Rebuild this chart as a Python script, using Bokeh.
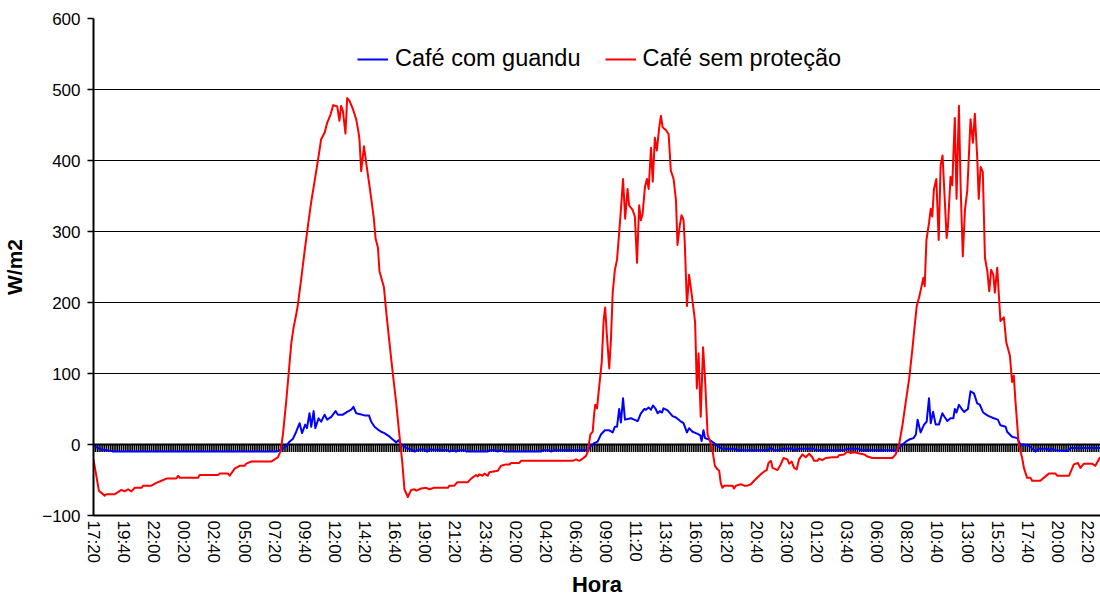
from bokeh.plotting import figure
from bokeh.models import Range1d, FixedTicker, Span, Legend, LegendItem
from bokeh.embed import file_html
from bokeh.resources import INLINE

# 10-minute readings, step 0 = 17:20; labels every 14 steps
tick_labels = ["17:20", "19:40", "22:00", "00:20", "02:40", "05:00", "07:20", "09:40",
               "12:00", "14:20", "16:40", "19:00", "21:20", "23:40", "02:00", "04:20",
               "06:40", "09:00", "11:20", "13:40", "16:00", "18:20", "20:40", "23:00",
               "01:20", "03:40", "06:00", "08:20", "10:40", "13:00", "15:20", "17:40",
               "20:00", "22:20"]
steps_per_label = 14
n_steps = 469
y_ticks = [-100, 0, 100, 200, 300, 400, 500, 600]

# (step, W/m2) – Café sem proteção
red_pts = [
    (0, -21), (2.5, -65), (5.2, -72), (6.0, -70), (9.9, -70), (13.0, -64), (14.5, -66), (16.1, -63),
    (17.6, -66), (19.2, -61), (22.3, -61), (23.1, -58), (26.9, -58), (29.2, -54), (31.6, -51),
    (33.9, -48), (38.5, -48), (39.3, -44), (40.1, -47), (48.6, -47), (49.3, -43), (57.9, -43),
    (58.6, -41), (62.5, -41), (63.3, -44), (65.6, -34), (67.9, -30), (70.2, -30), (71.0, -27),
    (73.4, -24), (82.6, -24), (84.2, -21), (85.7, -18), (87.0, -9), (88.1, 16), (89.6, 62),
    (90.7, 100), (91.9, 142), (93.0, 165), (94.2, 183), (95.0, 197), (96.6, 235), (98.1, 272),
    (99.7, 309), (101.2, 342), (102.7, 370), (104.3, 400), (105.8, 430), (107.4, 439),
    (108.6, 453), (110.2, 465), (111.4, 478), (113.3, 476), (114.3, 456), (115.1, 477),
    (115.9, 470), (117.1, 438), (117.9, 488), (119.0, 484), (120.6, 472), (122.1, 458),
    (123.2, 439), (123.6, 430), (124.4, 385), (125.7, 420), (126.9, 393), (128.0, 370),
    (129.1, 346), (130.3, 318), (131.1, 290), (132.2, 277), (132.9, 244), (135.0, 221),
    (136.0, 188), (137.6, 142), (139.1, 100), (140.7, 58), (141.9, 21), (142.7, -2), (143.5, -25),
    (144.5, -63), (146.1, -74), (147.6, -64), (149.2, -63), (150.0, -65), (152.3, -62),
    (154.6, -61), (156.1, -63), (158.4, -61), (164.7, -61), (165.4, -58), (167.7, -58),
    (168.5, -55), (169.3, -53), (174.0, -53), (175.5, -48), (177.8, -43), (178.6, -45),
    (179.3, -42), (180.9, -44), (181.7, -41), (183.2, -44), (184.0, -39), (187.9, -37),
    (189.4, -30), (191.7, -28), (193.3, -28), (194.1, -26), (197.9, -26), (198.7, -23),
    (222.7, -23), (224.3, -21), (225.8, -23), (227.3, -20), (228.9, -16), (229.7, -10),
    (230.9, 14), (232.0, 18), (232.7, 44), (233.2, 56), (234.0, 51), (235.1, 84), (236.2, 116),
    (237.1, 176), (237.8, 193), (238.5, 158), (239.7, 107), (240.5, 149), (241.3, 214),
    (242.3, 246), (243.3, 260), (244.3, 298), (245.1, 330), (246.1, 374), (247.1, 318),
    (248.2, 360), (248.9, 337), (250.6, 330), (251.6, 321), (252.6, 256), (253.6, 337),
    (254.4, 316), (255.2, 325), (256.3, 363), (257.2, 374), (258.0, 360), (259.1, 418),
    (259.9, 370), (260.9, 432), (261.8, 414), (262.9, 446), (263.7, 463), (264.5, 447),
    (266.0, 443), (267.3, 437), (268.3, 386), (269.6, 374), (270.7, 344), (271.4, 281),
    (272.5, 309), (273.3, 323), (274.2, 316), (274.8, 284), (275.8, 195), (276.8, 239),
    (277.9, 214), (278.9, 190), (279.6, 172), (280.4, 79), (281.2, 128), (282.2, 39),
    (283.3, 137), (284.2, 93), (285.4, 14), (286.6, 4), (287.7, -9), (288.8, -30), (290.0, -35),
    (290.8, -37), (291.5, -54), (292.3, -61), (293.1, -58), (297.0, -58), (297.7, -62),
    (298.5, -58), (300.9, -56), (302.4, -58), (303.9, -58), (305.5, -56), (307.0, -51),
    (310.1, -42), (311.7, -38), (312.9, -36), (313.7, -26), (314.8, -23), (315.6, -33),
    (317.9, -36), (319.4, -28), (320.7, -19), (322.5, -21), (323.3, -27), (324.5, -24),
    (325.6, -33), (326.8, -35), (327.9, -21), (329.5, -14), (331.0, -18), (332.6, -13),
    (334.1, -18), (334.9, -23), (336.4, -23), (337.2, -20), (338.7, -22), (340.3, -19),
    (343.4, -18), (345.7, -18), (346.5, -15), (348.8, -14), (350.4, -10), (351.9, -12),
    (353.5, -11), (356.6, -13), (358.2, -14), (359.7, -17), (362.0, -19), (371.3, -19),
    (372.8, -14), (374.4, 0), (376.0, 28), (377.5, 60), (379.1, 93), (380.6, 135), (381.8, 172),
    (382.6, 195), (383.7, 207), (384.7, 221), (385.7, 235), (386.3, 223), (387.1, 288),
    (388.3, 312), (389.1, 332), (389.8, 321), (390.6, 360), (391.7, 374), (392.8, 288),
    (393.7, 393), (394.6, 407), (396.5, 291), (397.1, 307), (398.3, 377), (399.1, 365),
    (400.3, 460), (401.1, 346), (402.2, 477), (403.0, 363), (404.0, 265), (405.0, 330),
    (406.1, 358), (407.6, 458), (408.7, 425), (409.6, 466), (410.7, 405), (411.4, 346),
    (412.3, 391), (413.3, 384), (414.3, 263), (415.4, 244), (416.3, 216), (417.2, 246),
    (418.2, 239), (418.9, 214), (420.0, 249), (421.5, 174), (423.1, 179), (424.2, 144),
    (425.9, 125), (426.9, 88), (427.7, 97), (428.5, 60), (430.0, 0), (431.6, -19), (432.4, -33),
    (433.9, -47), (435.5, -47), (436.2, -51), (440.1, -51), (441.6, -47), (444.0, -41),
    (447.1, -41), (447.9, -44), (452.6, -44), (453.4, -44), (455.6, -28), (457.5, -26),
    (458.7, -33), (460.3, -27), (464.1, -27), (465.6, -30), (467.6, -19), (468.5, -18),
]

# (step, W/m2) – Café com guandu
blue_pts = [
    (0, -2), (3.7, -7), (8.4, -9), (9.1, -10), (85.0, -10), (87.3, -7), (89.6, -2), (91.1, 4),
    (92.7, 8), (94.2, 18), (95.8, 30), (96.9, 16), (98.4, 28), (99.2, 23), (100.4, 44),
    (101.2, 25), (102.3, 47), (103.1, 23), (104.6, 37), (105.8, 32), (107.4, 42), (108.6, 35),
    (110.5, 39), (112.5, 47), (113.6, 42), (115.9, 42), (117.9, 46), (119.8, 49), (120.8, 53),
    (122.1, 44), (126.0, 41), (128.0, 41), (129.1, 32), (130.6, 25), (132.2, 21), (133.7, 18),
    (135.2, 16), (137.6, 11), (139.1, 7), (140.7, 3), (141.7, 6), (143.0, 0), (145.3, -5),
    (147.6, -7), (149.2, -10), (151.5, -7), (153.5, -7), (155.1, -10), (156.1, -7), (164.7, -8),
    (165.4, -10), (167.1, -8), (168.5, -10), (170.1, -8), (172.4, -8), (173.2, -10),
    (183.2, -10), (184.0, -8), (186.3, -8), (187.9, -10), (189.4, -8), (190.9, -10),
    (208.0, -10), (208.8, -8), (211.8, -8), (212.6, -10), (214.2, -8), (229.7, -8),
    (231.2, -2), (232.7, 2), (234.3, 4), (235.8, 14), (237.7, 20), (239.7, 20), (241.3, 17),
    (242.3, 25), (243.3, 25), (244.3, 50), (245.1, 31), (246.1, 65), (247.0, 35), (248.2, 36),
    (249.8, 37), (251.3, 35), (252.9, 33), (254.4, 44), (256.0, 50), (256.8, 49), (258.0, 52),
    (259.1, 49), (260.0, 55), (261.1, 51), (262.2, 44), (263.2, 47), (264.2, 45), (264.9, 51),
    (266.8, 48), (269.1, 40), (270.7, 38), (272.7, 33), (274.2, 30), (275.8, 17), (276.8, 23),
    (278.4, 18), (280.8, 15), (282.0, 13), (282.6, 5), (283.5, 20), (284.2, 9), (286.1, 7),
    (288.4, 2), (290.0, -2), (292.3, -6), (297.7, -6), (299.3, -8), (313.2, -8), (314.8, -5),
    (316.3, -8), (318.5, -8), (320.2, -6), (323.3, -6), (324.1, -5), (325.6, -8), (327.9, -6),
    (334.9, -6), (335.7, -8), (348.8, -8), (350.4, -6), (355.7, -6), (356.8, -8), (372.8, -8),
    (374.4, -5), (376.0, 0), (377.5, 4), (379.1, 7), (381.1, 9), (382.2, 14), (383.0, 35),
    (384.4, 17), (386.0, 28), (387.2, 32), (388.3, 65), (389.1, 30), (390.2, 46), (391.4, 28),
    (392.9, 28), (394.5, 44), (395.5, 39), (396.8, 33), (398.3, 37), (399.6, 37), (400.3, 50),
    (401.1, 45), (402.2, 56), (403.3, 51), (404.6, 46), (406.4, 50), (407.6, 75), (409.2, 72),
    (410.7, 58), (411.9, 56), (413.5, 45), (415.4, 41), (416.9, 39), (418.4, 37), (420.3, 35),
    (421.5, 27), (423.9, 25), (424.6, 18), (426.9, 11), (429.3, 9), (430.8, 0), (432.4, 0),
    (434.7, -2), (435.5, -4), (437.8, -10), (439.3, -6), (443.2, -6), (444.0, -9), (444.7, -6),
    (447.5, -8), (452.6, -9), (454.1, -5), (468.5, -5),
]

red_x = [s for s, v in red_pts]
red_y = [v for s, v in red_pts]
blue_x = [s for s, v in blue_pts]
blue_y = [v for s, v in blue_pts]

FONT = "Liberation Sans"

p = figure(width=1100, height=600,
           x_range=Range1d(0, 468.0), y_range=Range1d(-100, 600),
           output_backend="svg", toolbar_location=None,
           min_border_left=92, min_border_right=0, min_border_top=18, min_border_bottom=82)
p.outline_line_color = None
p.background_fill_color = "white"
p.border_fill_color = "white"

p.xgrid.visible = False
p.ygrid.grid_line_color = "black"
p.ygrid.grid_line_width = 1.2
p.ygrid.ticker = FixedTicker(ticks=y_ticks)

# y axis
p.yaxis.ticker = FixedTicker(ticks=y_ticks)
p.yaxis.axis_line_color = "black"
p.yaxis.axis_line_width = 2
p.yaxis.major_tick_out = 6
p.yaxis.major_tick_in = 0
p.yaxis.minor_tick_out = 0
p.yaxis.minor_tick_in = 0
p.yaxis.major_tick_line_color = "black"
p.yaxis.major_tick_line_width = 1.5
p.yaxis.major_label_text_font = FONT
p.yaxis.major_label_text_font_size = "17px"
p.yaxis.major_label_text_color = "black"
p.yaxis.major_label_standoff = 7
p.yaxis.axis_label = "W/m2"
p.yaxis.axis_label_text_font = FONT
p.yaxis.axis_label_text_font_style = "bold"
p.yaxis.axis_label_text_font_size = "21px"
p.yaxis.axis_label_text_color = "black"
p.yaxis.axis_label_standoff = 13

# x axis (category-like time steps)
label_steps = [k * steps_per_label for k in range(len(tick_labels))]
p.xaxis.ticker = FixedTicker(ticks=label_steps)
p.xaxis.major_label_overrides = {s: lab for s, lab in zip(label_steps, tick_labels)}
p.xaxis.major_label_orientation = "vertical"
p.xaxis.axis_line_color = "black"
p.xaxis.axis_line_width = 2
p.xaxis.major_tick_out = 0
p.xaxis.major_tick_in = 0
p.xaxis.minor_tick_out = 0
p.xaxis.minor_tick_in = 0
p.xaxis.major_label_text_font = FONT
p.xaxis.major_label_text_font_size = "17px"
p.xaxis.major_label_text_color = "black"
p.xaxis.major_label_standoff = 5
p.xaxis.axis_label = "Hora"
p.xaxis.axis_label_text_font = FONT
p.xaxis.axis_label_text_font_style = "bold"
p.xaxis.axis_label_text_font_size = "22px"
p.xaxis.axis_label_text_color = "black"
p.xaxis.axis_label_standoff = 6

# zero line with a tick at every reading
zero = Span(location=0, dimension="width", line_color="black", line_width=2, level="underlay")
p.add_layout(zero)
steps = list(range(n_steps))
p.segment(x0=steps, y0=[0] * n_steps, x1=steps, y1=[-10.5] * n_steps,
          line_color="black", line_width=1.6)

rb = p.line(blue_x, blue_y, line_color="#0000FF", line_width=2, line_join="round")
rr = p.line(red_x, red_y, line_color="#FF0000", line_width=2, line_join="round")

legend = Legend(items=[LegendItem(label="Café com guandu", renderers=[rb]),
                       LegendItem(label="Café sem proteção", renderers=[rr])],
                location=(264, 443), orientation="horizontal",
                border_line_color=None, background_fill_alpha=0,
                padding=0, margin=0, spacing=24, glyph_width=31, label_standoff=7,
                label_text_font=FONT, label_text_font_size="23.5px", label_text_color="black")
p.add_layout(legend)

open("out.html", "w").write(file_html(p, INLINE))
